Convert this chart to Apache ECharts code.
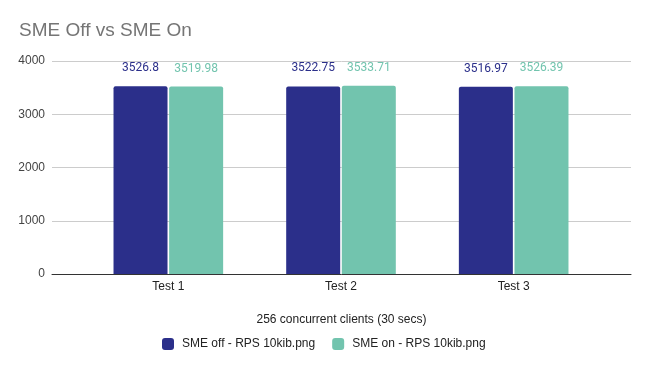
<!DOCTYPE html>
<html>
<head>
<meta charset="utf-8">
<script src="https://cdn.jsdelivr.net/npm/echarts@6/dist/echarts.min.js"></script>
<style>html,body{margin:0;padding:0;background:#fff;}#c{width:649px;height:371px;}</style>
</head>
<body>
<div id="c"></div>
<script>
const categories = ['Test 1', 'Test 2', 'Test 3'];
const seriesNames = ['SME off - RPS 10kib.png', 'SME on - RPS 10kib.png'];
const smeOff = [3526.8, 3522.75, 3516.97];
const smeOn = [3519.98, 3533.71, 3526.39];
const colors = ['#2b2f8a', '#72c4ae'];

const chart = echarts.init(document.getElementById('c'));
const labelFont = 'Roboto, sans-serif';
const baseFont = '"Liberation Sans", Arial, sans-serif';
function mkSeries(name, data, color) {
  return {
    name: name, type: 'bar', xAxisIndex: 1, yAxisIndex: 1,
    data: data, barWidth: 54, barGap: '3%',
    itemStyle: { color: color, borderRadius: [2, 2, 0, 0] },
    label: { show: true, position: 'top', distance: 12, color: color,
             fontFamily: labelFont, fontSize: 12 }
  };
}
chart.setOption({
  animation: false,
  backgroundColor: '#fff',
  textStyle: { fontFamily: baseFont },
  title: { text: 'SME Off vs SME On', left: 14, top: 16,
           textStyle: { fontFamily: baseFont, fontSize: 19, fontWeight: 'normal', color: '#757575' } },
  legend: {
    data: seriesNames, left: 157, top: 333, itemWidth: 12, itemHeight: 12, itemGap: 17,
    icon: 'roundRect',
    textStyle: { fontFamily: baseFont, fontSize: 12, color: '#222', padding: [0, 0, 0, 3] }
  },
  grid: [
    { left: 52, right: 18, top: 61, bottom: 97 },
    { left: 82, right: 49, top: 61, bottom: 97 }
  ],
  xAxis: [
    { type: 'value', gridIndex: 0, min: 0, max: 1,
      axisLine: { show: true, lineStyle: { color: '#333', width: 1 } },
      axisTick: { show: false }, axisLabel: { show: false }, splitLine: { show: false },
      name: '256 concurrent clients (30 secs)', nameLocation: 'middle', nameGap: 40,
      nameTextStyle: { fontFamily: baseFont, fontSize: 12, color: '#222' } },
    { type: 'category', gridIndex: 1, data: categories,
      axisLine: { show: false }, axisTick: { show: false },
      axisLabel: { margin: 7, fontFamily: baseFont, fontSize: 12, color: '#222' } }
  ],
  yAxis: [
    { type: 'value', gridIndex: 0, min: 0, max: 4000, interval: 1000,
      axisLine: { show: false }, axisTick: { show: false },
      axisLabel: { margin: 7, fontFamily: baseFont, fontSize: 12, color: '#444',
                   formatter: function (v) { return String(v); } },
      splitLine: { lineStyle: { color: '#cccccc', width: 1 } } },
    { type: 'value', gridIndex: 1, min: 0, max: 4000, show: false, splitLine: { show: false } }
  ],
  series: [
    mkSeries(seriesNames[0], smeOff, colors[0]),
    mkSeries(seriesNames[1], smeOn, colors[1])
  ]
});
</script>
</body>
</html>
